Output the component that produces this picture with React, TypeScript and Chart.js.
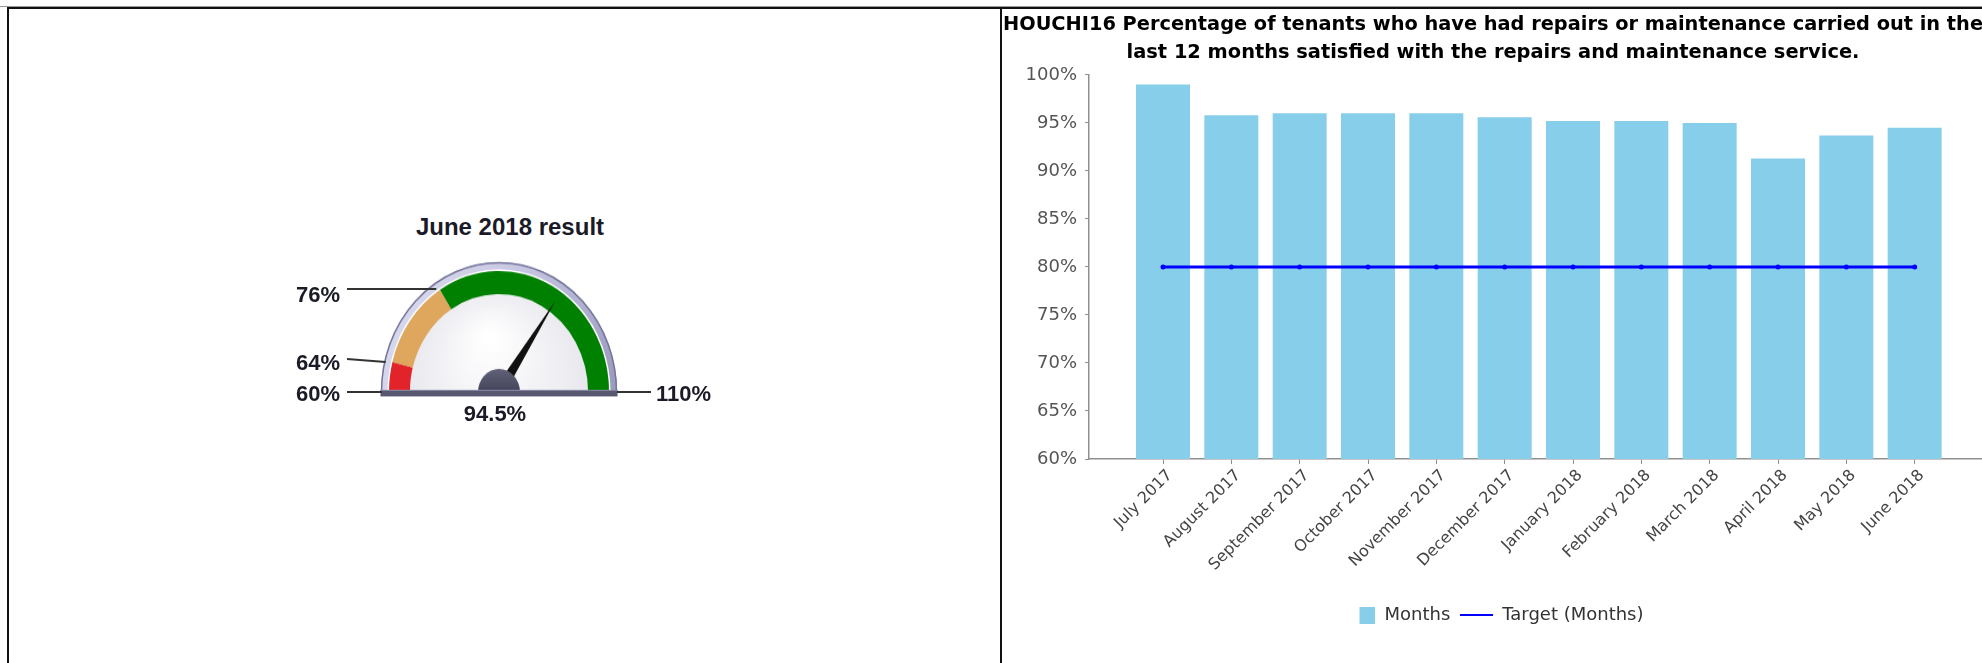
import React, { useEffect, useRef } from "react";
import { Chart, registerables } from "chart.js";

Chart.register(...registerables);

// ---------- data ----------
const months = [
  "July 2017",
  "August 2017",
  "September 2017",
  "October 2017",
  "November 2017",
  "December 2017",
  "January 2018",
  "February 2018",
  "March 2018",
  "April 2018",
  "May 2018",
  "June 2018",
];
const satisfaction = [99.0, 95.8, 96.0, 96.0, 96.0, 95.6, 95.2, 95.2, 95.0, 91.3, 93.7, 94.5];
const target = [80, 80, 80, 80, 80, 80, 80, 80, 80, 80, 80, 80];
const yMin = 60;
const yMax = 100;
const yStep = 5;
const seriesLabels = ["Months", "Target (Months)"];
const chartTitle = [
  "HOUCHI16 Percentage of tenants who have had repairs or maintenance carried out in the",
  "last 12 months satisfied with the repairs and maintenance service.",
];

const gaugeTitle = "June 2018 result";
const gaugeThresholds = [60, 64, 76, 110];
const gaugeValue = 94.5;

// ---------- styles ----------
const BAR_COLOR = "#87CEEB";
const LINE_COLOR = "#0000FF";
const GAUGE_COLORS = ["#e3232a", "#dfa75e", "#008000"];
const RIGHT_FONT = '"DejaVu Sans", Verdana, sans-serif';
const LEFT_FONT = '"Liberation Sans", Arial, sans-serif';

// gauge layout (viewport coords)
const G_CX = 499;
const G_CY = 392;
const G_SCALE_Y = 1.1;
const G_CANVAS_W = 240;
const G_CANVAS_H = 128;

export default function App() {
  const barRef = useRef<HTMLCanvasElement>(null);
  const gaugeRef = useRef<HTMLCanvasElement>(null);

  useEffect(() => {
    // ---------------- gauge ----------------
    const bands = gaugeThresholds.slice(1).map((t, i) => t - gaugeThresholds[i]);
    const gMin = gaugeThresholds[0];
    const gMax = gaugeThresholds[gaugeThresholds.length - 1];

    const gaugeDecor = {
      id: "gaugeDecor",
      beforeDatasetsDraw(chart: any) {
        const arc = chart.getDatasetMeta(0).data[0];
        const { x, y, outerRadius } = arc.getProps(["x", "y", "outerRadius"], true);
        const ctx = chart.ctx as CanvasRenderingContext2D;
        ctx.save();
        // face
        const face = ctx.createRadialGradient(x - 10, y - 50, 5, x, y, outerRadius);
        face.addColorStop(0, "#ffffff");
        face.addColorStop(1, "#e2e2ea");
        ctx.beginPath();
        ctx.moveTo(x - outerRadius, y);
        ctx.arc(x, y, outerRadius, Math.PI, 2 * Math.PI);
        ctx.closePath();
        ctx.fillStyle = face;
        ctx.fill();
        // rim
        const rim = ctx.createLinearGradient(x - outerRadius, y - outerRadius, x + outerRadius, y);
        rim.addColorStop(0, "#dcdcf0");
        rim.addColorStop(0.5, "#c6c6e2");
        rim.addColorStop(1, "#9c9cc0");
        ctx.beginPath();
        ctx.arc(x, y, outerRadius + 4, Math.PI, 2 * Math.PI);
        ctx.lineWidth = 8;
        ctx.strokeStyle = rim;
        ctx.stroke();
        ctx.beginPath();
        ctx.arc(x, y, outerRadius + 7.5, Math.PI, 2 * Math.PI);
        ctx.lineWidth = 1.5;
        ctx.strokeStyle = "#74749a";
        ctx.stroke();
        ctx.beginPath();
        ctx.arc(x, y, outerRadius + 0.8, Math.PI, 2 * Math.PI);
        ctx.lineWidth = 1.5;
        ctx.strokeStyle = "#ffffff";
        ctx.stroke();
        ctx.restore();
      },
      afterDatasetsDraw(chart: any) {
        const arc = chart.getDatasetMeta(0).data[0];
        const { x, y, outerRadius, innerRadius } = arc.getProps(
          ["x", "y", "outerRadius", "innerRadius"],
          true
        );
        const ctx = chart.ctx as CanvasRenderingContext2D;
        ctx.save();
        // needle
        const f = (gaugeValue - gMin) / (gMax - gMin);
        const th = Math.PI + f * Math.PI;
        const len = innerRadius + 12;
        const tipX = x + len * Math.cos(th);
        const tipY = y + len * Math.sin(th);
        const px = -Math.sin(th);
        const py = Math.cos(th);
        ctx.beginPath();
        ctx.moveTo(tipX, tipY);
        ctx.lineTo(x + px * 5.5, y + py * 5.5);
        ctx.lineTo(x - px * 5.5, y - py * 5.5);
        ctx.closePath();
        ctx.fillStyle = "#111111";
        ctx.fill();
        // hub
        const hub = ctx.createLinearGradient(x, y - 22, x, y);
        hub.addColorStop(0, "#62627a");
        hub.addColorStop(1, "#44445a");
        ctx.beginPath();
        ctx.moveTo(x - 21, y);
        ctx.arc(x, y, 21, Math.PI, 2 * Math.PI);
        ctx.closePath();
        ctx.fillStyle = hub;
        ctx.fill();
        // base bar
        ctx.fillStyle = "#575770";
        ctx.fillRect(x - outerRadius - 8.5, y - 2, 2 * (outerRadius + 8.5), 6);
        ctx.fillStyle = "#8a8aa6";
        ctx.fillRect(x - outerRadius - 8.5, y - 2, 2 * (outerRadius + 8.5), 1);
        ctx.restore();
      },
    };

    const gauge = new Chart(gaugeRef.current!, {
      type: "doughnut",
      data: {
        labels: gaugeThresholds.slice(1).map((t, i) => `${gaugeThresholds[i]}-${t}`),
        datasets: [
          {
            data: bands,
            backgroundColor: GAUGE_COLORS,
            borderWidth: 0,
          },
        ],
      },
      options: {
        responsive: false,
        animation: false,
        events: [],
        rotation: -90,
        circumference: 180,
        cutout: "81%",
        layout: { padding: { left: 10, right: 10, top: 10, bottom: 8 } },
        plugins: { legend: { display: false }, tooltip: { enabled: false } },
      },
      plugins: [gaugeDecor],
    } as any);

    // ---------------- bar chart ----------------
    const boxImg = document.createElement("canvas");
    boxImg.width = 33;
    boxImg.height = 18;
    const bctx = boxImg.getContext("2d")!;
    bctx.fillStyle = BAR_COLOR;
    bctx.fillRect(17, 1, 16, 17);
    const lineImg = document.createElement("canvas");
    lineImg.width = 33;
    lineImg.height = 2;
    const lctx = lineImg.getContext("2d")!;
    lctx.fillStyle = LINE_COLOR;
    lctx.fillRect(0, 0, 33, 2);

    const bar = new Chart(barRef.current!, {
      type: "bar",
      data: {
        datasets: [
          {
            type: "bar",
            label: seriesLabels[0],
            data: satisfaction.map((v, i) => ({ x: i, y: v })),
            backgroundColor: BAR_COLOR,
            borderWidth: 0,
            categoryPercentage: 1,
            barPercentage: 0.79,
            order: 2,
          },
          {
            type: "line",
            label: seriesLabels[1],
            data: target.map((v, i) => ({ x: i, y: v })),
            borderColor: LINE_COLOR,
            backgroundColor: LINE_COLOR,
            borderWidth: 3,
            pointRadius: 1,
            pointHoverRadius: 1,
            fill: false,
            order: 1,
          },
        ],
      },
      options: {
        responsive: false,
        animation: false,
        events: [],
        layout: { padding: { left: 0, right: 12, top: 0, bottom: 29 } },
        plugins: {
          tooltip: { enabled: false },
          title: {
            display: true,
            text: chartTitle,
            color: "#000000",
            font: { family: RIGHT_FONT, size: 19.4, weight: "bold", lineHeight: 1.42 },
            padding: { top: 1.2, bottom: 8.6 },
          },
          legend: {
            position: "bottom",
            labels: {
              usePointStyle: true,
              pointStyleWidth: 33,
              padding: 10,
              color: "#333333",
              font: { family: RIGHT_FONT, size: 18 },
              generateLabels: () => [
                {
                  text: seriesLabels[0],
                  pointStyle: boxImg,
                  fillStyle: BAR_COLOR,
                  strokeStyle: BAR_COLOR,
                  lineWidth: 0,
                  hidden: false,
                  datasetIndex: 0,
                  fontColor: "#333333",
                },
                {
                  text: seriesLabels[1],
                  pointStyle: lineImg,
                  fillStyle: LINE_COLOR,
                  strokeStyle: LINE_COLOR,
                  lineWidth: 0,
                  hidden: false,
                  datasetIndex: 1,
                  fontColor: "#333333",
                },
              ],
            },
          },
        },
        scales: {
          x: {
            type: "linear",
            min: -1.083,
            max: 12.0,
            offset: false,
            afterBuildTicks: (s: any) => {
              s.ticks = months.map((_, i) => ({ value: i }));
            },
            afterFit: (s: any) => {
              s.height = 137;
            },
            ticks: {
              autoSkip: false,
              maxRotation: 45,
              minRotation: 45,
              padding: 2,
              labelOffset: 7,
              color: "#444444",
              font: { family: RIGHT_FONT, size: 16 },
              callback: (v: any) => months[v] ?? "",
            },
            grid: {
              offset: false,
              drawOnChartArea: false,
              drawTicks: true,
              tickLength: 5,
              color: "#8f8f8f",
            },
            border: { display: true, color: "#8f8f8f", width: 1.5 },
          },
          y: {
            min: yMin,
            max: yMax,
            afterFit: (s: any) => {
              s.width = 86;
            },
            ticks: {
              stepSize: yStep,
              padding: 8,
              color: "#555555",
              font: { family: RIGHT_FONT, size: 18 },
              callback: (v: any) => `${v}%`,
            },
            grid: {
              drawOnChartArea: false,
              drawTicks: true,
              tickLength: 4,
              color: "#8f8f8f",
            },
            border: { display: true, color: "#8f8f8f", width: 1.5 },
          },
        },
      },
    } as any);

    return () => {
      gauge.destroy();
      bar.destroy();
    };
  }, []);

  // gauge label layout
  const leftLabelRight = 340;
  const leftLineStart = 347;
  const rimPoint = (t: number) => {
    const f = (t - gaugeThresholds[0]) / (gaugeThresholds[gaugeThresholds.length - 1] - gaugeThresholds[0]);
    const th = Math.PI + f * Math.PI;
    const r = 117;
    return {
      x: G_CX + r * Math.cos(th),
      y: G_CY + r * G_SCALE_Y * Math.sin(th),
    };
  };
  const leftLabelY = [394, 363, 295];
  const leftLineY1 = [392, 359, 289];
  const leftLineY2 = [392, 362, 289];

  const labelStyle: React.CSSProperties = {
    position: "absolute",
    fontFamily: LEFT_FONT,
    fontWeight: "bold",
    fontSize: 22,
    lineHeight: "22px",
    color: "#1b1b28",
    whiteSpace: "nowrap",
    transform: "translateY(-50%)",
  };

  const lastT = gaugeThresholds[gaugeThresholds.length - 1];

  return (
    <div
      style={{
        position: "fixed",
        left: 0,
        top: 0,
        width: 1982,
        height: 663,
        overflow: "hidden",
        background: "#ffffff",
      }}
    >
      {/* frame */}
      <div style={{ position: "absolute", left: 0, top: 6, width: 1982, height: 1, background: "#9a9a9a" }} />
      <div style={{ position: "absolute", left: 7, top: 7, width: 1975, height: 2, background: "#111111" }} />
      <div style={{ position: "absolute", left: 7, top: 7, width: 2, height: 656, background: "#111111" }} />
      <div style={{ position: "absolute", left: 1000, top: 7, width: 2, height: 656, background: "#111111" }} />

      {/* gauge title */}
      <div
        style={{
          position: "absolute",
          left: 310,
          width: 400,
          top: 227,
          textAlign: "center",
          fontFamily: LEFT_FONT,
          fontWeight: "bold",
          fontSize: 24,
          lineHeight: "24px",
          color: "#1b1b28",
          transform: "translateY(-50%)",
        }}
      >
        {gaugeTitle}
      </div>

      {/* gauge canvas */}
      <canvas
        ref={gaugeRef}
        width={G_CANVAS_W}
        height={G_CANVAS_H}
        style={{
          position: "absolute",
          left: G_CX - G_CANVAS_W / 2,
          top: G_CY - 120,
          width: G_CANVAS_W,
          height: G_CANVAS_H,
          transform: `scaleY(${G_SCALE_Y})`,
          transformOrigin: "120px 120px",
        }}
      />

      {/* leader lines */}
      <svg
        width={1000}
        height={663}
        style={{ position: "absolute", left: 0, top: 0, pointerEvents: "none" }}
      >
        {gaugeThresholds.slice(0, 3).map((t, i) => {
          const p = rimPoint(t);
          return (
            <line
              key={t}
              x1={leftLineStart}
              y1={leftLineY1[i]}
              x2={p.x}
              y2={leftLineY2[i]}
              stroke="#333333"
              strokeWidth={2}
            />
          );
        })}
        <line x1={617} y1={392} x2={651} y2={392} stroke="#333333" strokeWidth={2} />
      </svg>

      {/* gauge labels */}
      {gaugeThresholds.slice(0, 3).map((t, i) => (
        <div
          key={t}
          style={{ ...labelStyle, left: leftLabelRight - 100, width: 100, textAlign: "right", top: leftLabelY[i] }}
        >
          {`${t}%`}
        </div>
      ))}
      <div style={{ ...labelStyle, left: 656, top: 394 }}>{`${lastT}%`}</div>
      <div style={{ ...labelStyle, left: 395, width: 200, textAlign: "center", top: 414 }}>{`${gaugeValue}%`}</div>

      {/* bar chart */}
      <canvas
        ref={barRef}
        width={992}
        height={653}
        style={{ position: "absolute", left: 1003, top: 10, width: 992, height: 653 }}
      />
    </div>
  );
}
